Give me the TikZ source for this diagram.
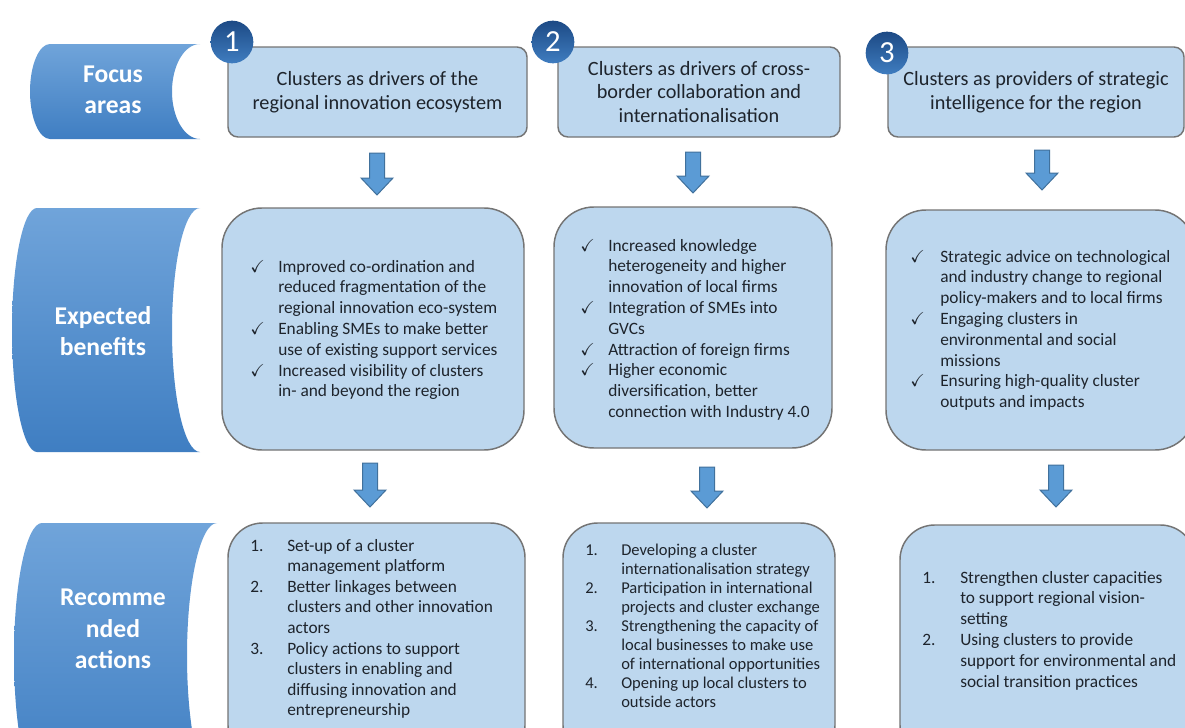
\documentclass[tikz,border=0pt]{standalone}
\usepackage{fontspec}
\setmainfont{Carlito}
\usepackage{amssymb}
\usetikzlibrary{calc}

\definecolor{boxfill}{HTML}{BDD7EE}
\definecolor{boxline}{HTML}{747474}
\definecolor{arrowfill}{HTML}{5B9BD5}
\definecolor{arrowline}{HTML}{41719C}
\definecolor{tabtop}{HTML}{70A4DA}
\definecolor{tabbot}{HTML}{3F7EC2}
\definecolor{numdark}{HTML}{1D4A85}
\definecolor{numlight}{HTML}{3F7DC0}
\definecolor{bodytext}{HTML}{1E242C}

\newcommand\benefitmark{$\checkmark$}

\tikzset{
  headbox/.style={draw=boxline, line width=1.1pt, fill=boxfill, rounded corners=7.5pt, minimum height=67.5pt, align=center, text=bodytext, font=\fontsize{15.2}{17.6}\selectfont, inner sep=0pt},
  benefitbox/.style={draw=boxline, line width=1.1pt, fill=boxfill, rounded corners=30pt, inner sep=0pt},
  actionbox/.style={draw=boxline, line width=1.1pt, fill=boxfill, rounded corners=26pt, inner sep=0pt},
  listtext/.style={anchor=base west, inner sep=0pt, text=bodytext, font=\fontsize{13}{15.6}\selectfont},
  numball/.style={circle, minimum size=32pt, inner sep=0pt, top color=numdark, bottom color=numlight, text=white, font=\fontsize{23}{23}\selectfont},
  rowtab/.style={top color=tabtop, bottom color=tabbot},
  rowlabel/.style={align=center, text=white, font=\bfseries\fontsize{19.2}{23.6}\selectfont, inner sep=0.75pt},
  blockarrow/.style={draw=arrowline, fill=arrowfill, line width=0.75pt, to path={
    ($(\tikztostart)+(-7.5,0)$) -- ($(\tikztotarget)+(-7.5,-17)$) -- ($(\tikztotarget)+(-16,-17)$) -- (\tikztotarget)
    -- ($(\tikztotarget)+(16,-17)$) -- ($(\tikztotarget)+(7.5,-17)$) -- ($(\tikztostart)+(7.5,0)$) -- cycle}},
}

\begin{document}
\begin{tikzpicture}[x=0.75pt,y=0.75pt,yscale=-1,xscale=1]
\useasboundingbox[fill=white] (0,0) rectangle (1185,728);

%Shape: Row tab (focus areas)
\shade[rowtab] (50,44) -- (200,44) .. controls (184.5,44) and (172,65.3) .. (172,91.5) .. controls (172,117.7) and (184.5,139) .. (200,139) -- (50,139) .. controls (39,139) and (30,117.7) .. (30,91.5) .. controls (30,65.3) and (39,44) .. (50,44) -- cycle ;
%Shape: Row tab (expected benefits)
\shade[rowtab] (37,208) -- (200,208) .. controls (184.5,208) and (172,262.6) .. (172,330) .. controls (172,397.4) and (184.5,452) .. (200,452) -- (37,452) .. controls (23.2,452) and (12,397.4) .. (12,330) .. controls (12,262.6) and (23.2,208) .. (37,208) -- cycle ;
%Shape: Row tab (recommended actions)
\shade[rowtab] (42,523) -- (217,523) .. controls (200.4,523) and (187,582.5) .. (187,656) .. controls (187,729.5) and (200.4,789) .. (217,789) -- (42,789) .. controls (26.5,789) and (14,729.5) .. (14,656) .. controls (14,582.5) and (26.5,523) .. (42,523) -- cycle ;

% Text Node
\draw (113,90) node [rowlabel] (lbl1) {Focus\\areas};
% Text Node
\draw (103,331) node [rowlabel] (lbl2) {Expected\\benefits};
% Text Node
\draw (113,629) node [rowlabel] (lbl3) {Recomme\\nded\\actions};

%Rounded Rect: focus areas
\draw (377.5,92) node [headbox, minimum width=224.25pt] (hd1) {Clusters as drivers of the\\regional innovation ecosystem};
\draw (699,92) node [headbox, minimum width=211.5pt] (hd2) {Clusters as drivers of cross-\\border collaboration and\\internationalisation};
\draw (1036,92) node [headbox, minimum width=222pt] (hd3) {Clusters as providers of strategic\\intelligence for the region};

%Circles: numbers
\draw (232,42) node [numball] (n1) {1};
\draw (553,42) node [numball] (n2) {2};
\draw (887,53) node [numball] (n3) {3};

%Rounded Rect: expected benefits
\draw (373,329) node [benefitbox, minimum width=226.5pt, minimum height=181.5pt] (bn1) {};
\draw (693,327.5) node [benefitbox, minimum width=208.5pt, minimum height=180.75pt] (bn2) {};
\draw (1040.5,330) node [benefitbox, minimum width=231.75pt, minimum height=180pt] (bn3) {};

% Text Node
\draw (250,272) node [listtext] (bn1txt) {\begin{tabular}[t]{@{}p{21pt}@{}l@{}}
\benefitmark & Improved co-ordination and\\
 & reduced fragmentation of the\\
 & regional innovation eco-system\\
\benefitmark & Enabling SMEs to make better\\
 & use of existing support services\\
\benefitmark & Increased visibility of clusters\\
 & in- and beyond the region
\end{tabular}};
% Text Node
\draw (580,251) node [listtext] (bn2txt) {\begin{tabular}[t]{@{}p{21pt}@{}l@{}}
\benefitmark & Increased knowledge\\
 & heterogeneity and higher\\
 & innovation of local firms\\
\benefitmark & Integration of SMEs into\\
 & GVCs\\
\benefitmark & Attraction of foreign firms\\
\benefitmark & Higher economic\\
 & diversification, better\\
 & connection with Industry 4.0
\end{tabular}};
% Text Node
\draw (910,262) node [listtext] (bn3txt) {\begin{tabular}[t]{@{}p{22.5pt}@{}l@{}}
\benefitmark & Strategic advice on technological\\
 & and industry change to regional\\
 & policy-makers and to local firms\\
\benefitmark & Engaging clusters in\\
 & environmental and social\\
 & missions\\
\benefitmark & Ensuring high-quality cluster\\
 & outputs and impacts
\end{tabular}};

%Rounded Rect: recommended actions
\draw (376.5,641.5) node [actionbox, minimum width=222.75pt, minimum height=177.75pt] (ac1) {};
\draw (699,641.5) node [actionbox, minimum width=204pt, minimum height=177.75pt] (ac2) {};
\draw (1047.5,642.5) node [actionbox, minimum width=221.25pt, minimum height=176.25pt] (ac3) {};

% Text Node
\draw (250,551) node [listtext, font=\fontsize{13}{15.45}\selectfont] (ac1txt) {\begin{tabular}[t]{@{}p{27.75pt}@{}l@{}}
1. & Set-up of a cluster\\
 & management platform\\
2. & Better linkages between\\
 & clusters and other innovation\\
 & actors\\
3. & Policy actions to support\\
 & clusters in enabling and\\
 & diffusing innovation and\\
 & entrepreneurship
\end{tabular}};
% Text Node
\draw (585,555) node [listtext, font=\fontsize{12.4}{14.3}\selectfont] (ac2txt) {\begin{tabular}[t]{@{}p{27pt}@{}l@{}}
1. & Developing a cluster\\
 & internationalisation strategy\\
2. & Participation in international\\
 & projects and cluster exchange\\
3. & Strengthening the capacity of\\
 & local businesses to make use\\
 & of international opportunities\\
4. & Opening up local clusters to\\
 & outside actors
\end{tabular}};
% Text Node
\draw (922,583) node [listtext] (ac3txt) {\begin{tabular}[t]{@{}p{28.5pt}@{}l@{}}
1. & Strengthen cluster capacities\\
 & to support regional vision-\\
 & setting\\
2. & Using clusters to provide\\
 & support for environmental and\\
 & social transition practices
\end{tabular}};

%Block arrows
\coordinate (a1s) at (377,153); \coordinate (a1e) at (377,195);
\coordinate (a2s) at (693,152); \coordinate (a2e) at (693,193);
\coordinate (a3s) at (1042,150); \coordinate (a3e) at (1042,190);
\coordinate (b1s) at (370,463); \coordinate (b1e) at (370,507);
\coordinate (b2s) at (707,467); \coordinate (b2e) at (707,508);
\coordinate (b3s) at (1056,465); \coordinate (b3e) at (1056,507);
\draw [blockarrow] (a1s) to (a1e);
\draw [blockarrow] (a2s) to (a2e);
\draw [blockarrow] (a3s) to (a3e);
\draw [blockarrow] (b1s) to (b1e);
\draw [blockarrow] (b2s) to (b2e);
\draw [blockarrow] (b3s) to (b3e);

\end{tikzpicture}
\end{document}
